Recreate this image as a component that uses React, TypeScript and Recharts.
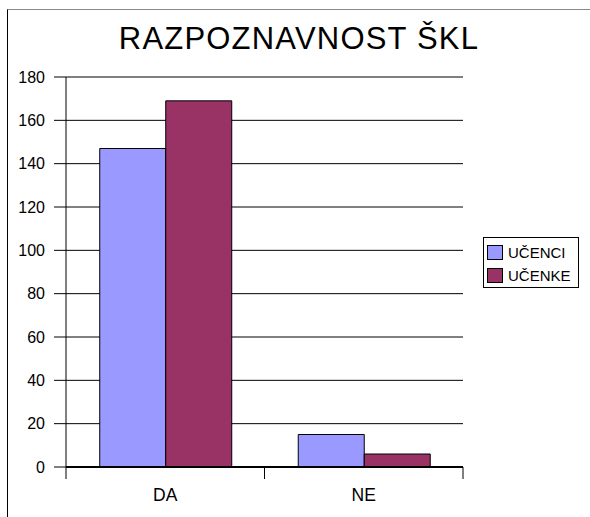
import React from 'react';
import { BarChart, Bar, XAxis, YAxis, CartesianGrid, Legend } from 'recharts';

const categories = ['DA', 'NE'];
const ucenci = [147, 15];
const ucenke = [169, 6];
const yTicks = [0, 20, 40, 60, 80, 100, 120, 140, 160, 180];

const data = categories.map((name, i) => ({ name, ucenci: ucenci[i], ucenke: ucenke[i] }));

const FONT = '"Liberation Sans", Arial, sans-serif';

const CategoryTick = (props: any) => {
  const { x, y, payload, index } = props;
  const half = payload.offset || 0;
  return (
    <g>
      <line x1={x - half} y1={y} x2={x - half} y2={y + 12} stroke="#000" />
      {index === categories.length - 1 && (
        <line x1={x + half} y1={y} x2={x + half} y2={y + 12} stroke="#000" />
      )}
      <text x={x} y={y + 34} textAnchor="middle" fontSize={17.5} fontFamily={FONT} fill="#000">
        {payload.value}
      </text>
    </g>
  );
};

const LegendBox = (props: any) => {
  const { payload } = props;
  return (
    <div
      style={{
        border: '1px solid #000',
        padding: '3px 0 0 3px',
        background: '#fff',
        fontFamily: FONT,
        fontSize: 15,
        width: 91,
        height: 46,
      }}
    >
      {(payload || []).map((p: any) => (
        <div key={p.value} style={{ display: 'flex', alignItems: 'center', height: 23 }}>
          <span
            style={{
              display: 'inline-block',
              width: 16,
              height: 15,
              background: p.color,
              border: '1px solid #000',
              boxSizing: 'border-box',
              marginRight: 5,
            }}
          />
          <span>{p.value}</span>
        </div>
      ))}
    </div>
  );
};

export default function App() {
  return (
    <div style={{ position: 'absolute', left: 0, top: 0, width: 590, height: 517, background: '#fff' }}>
      <div
        style={{
          position: 'absolute',
          left: 7,
          top: 9,
          width: 600,
          height: 520,
          borderLeft: '1px solid #000',
          borderTop: '1px solid #888',
        }}
      />
      <div
        style={{
          position: 'absolute',
          left: 0,
          width: 598,
          top: 21,
          textAlign: 'center',
          fontFamily: FONT,
          fontSize: 31,
          letterSpacing: 1.2,
          color: '#000',
        }}
      >
        RAZPOZNAVNOST ŠKL
      </div>
      <div style={{ position: 'absolute', left: 0, top: 0 }}>
        <BarChart
          width={590}
          height={517}
          data={data}
          margin={{ top: 77, right: 127, left: 16, bottom: 10 }}
          barCategoryGap="17%"
          barGap={0}
        >
          <CartesianGrid vertical={false} stroke="#000" />
          <XAxis
            dataKey="name"
            height={40}
            tickLine={false}
            tickSize={0}
            tickMargin={0}
            axisLine={{ stroke: '#000', strokeWidth: 2 }}
            tick={<CategoryTick />}
            interval={0}
          />
          <YAxis
            width={50}
            domain={[0, 180]}
            ticks={yTicks}
            tickSize={12}
            tickMargin={9}
            axisLine={{ stroke: '#000' }}
            tickLine={{ stroke: '#000' }}
            tick={{ fontSize: 16, fontFamily: FONT, fill: '#000' }}
          />
          <Legend
            layout="vertical"
            align="center"
            verticalAlign="middle"
            content={<LegendBox />}
            wrapperStyle={{ left: 483, top: 237, width: 'auto' }}
          />
          <Bar dataKey="ucenci" name="UČENCI" fill="#9999FF" stroke="#000" strokeWidth={1} isAnimationActive={false} />
          <Bar dataKey="ucenke" name="UČENKE" fill="#993366" stroke="#000" strokeWidth={1} isAnimationActive={false} />
        </BarChart>
      </div>
    </div>
  );
}
